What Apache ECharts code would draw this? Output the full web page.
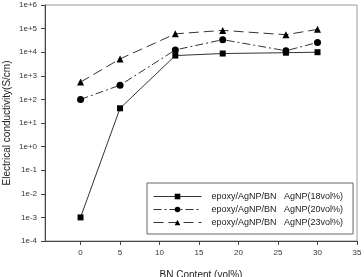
<!DOCTYPE html>
<html>
<head>
<meta charset="utf-8">
<script src="https://cdn.jsdelivr.net/npm/echarts@6/dist/echarts.min.js"></script>
<style>
  html, body { margin: 0; padding: 0; background: #fff; }
  #main { width: 364px; height: 277px; }
</style>
</head>
<body>
<div id="main"></div>
<script>
// BN content (vol%)
var bnContent = [0, 5, 12, 18, 26, 30];
// conductivity (S/cm) per AgNP loading
var ag18 = [1e-3, 42, 7200, 8800, 9500, 10000];
var ag20 = [100, 400, 12500, 34000, 11500, 26000];
var ag23 = [540, 5200, 60000, 84000, 55000, 93000];
var seriesNames = [
    'epoxy/AgNP/BN   AgNP(18vol%)',
    'epoxy/AgNP/BN   AgNP(20vol%)',
    'epoxy/AgNP/BN   AgNP(23vol%)'
];
var xTicks = [0, 5, 10, 15, 20, 25, 30, 35];

function pairs(ys) {
    return bnContent.map(function (x, i) { return [x, ys[i]]; });
}

var lineColor = '#333';
var font = 'Liberation Sans, Arial, sans-serif';

echarts.init(document.getElementById('main')).setOption({
    animation: false,
    grid: {
        left: 45, top: 5, right: 7, bottom: 36,
        outerBoundsMode: 'none',
        show: true, borderColor: '#999', borderWidth: 1
    },
    legend: {
        orient: 'vertical',
        left: 147, top: 183,
        width: 201,
        itemWidth: 48, itemHeight: 7, itemGap: 4,
        padding: [9, 10, 7, 6],
        borderColor: '#666', borderWidth: 1,
        lineStyle: { width: 1 },
        textStyle: { fontSize: 9, fontFamily: font, color: '#222', padding: [0, 0, 0, 5] },
        data: seriesNames
    },
    xAxis: {
        type: 'value',
        min: -4.5, max: 35,
        name: 'BN Content (vol%)',
        nameLocation: 'middle',
        nameGap: 29,
        nameMoveOverlap: false,
        nameTextStyle: { fontSize: 10, fontFamily: font, color: '#222' },
        splitLine: { show: false },
        axisLine: { onZero: false, lineStyle: { color: '#444' } },
        axisTick: { show: true, length: 4, inside: false, customValues: xTicks, lineStyle: { color: '#444' } },
        axisLabel: { fontSize: 8, fontFamily: font, color: '#333', margin: 8, customValues: xTicks }
    },
    yAxis: {
        type: 'log',
        logBase: 10,
        min: 1e-4, max: 1e6,
        splitNumber: 10,
        name: 'Electrical conductivity(S/cm)',
        nameLocation: 'middle',
        nameGap: 33,
        nameMoveOverlap: false,
        nameTextStyle: { fontSize: 10, fontFamily: font, color: '#222' },
        splitLine: { show: false },
        axisLine: { show: true, onZero: false, lineStyle: { color: '#444' } },
        axisTick: { show: true, length: 4, lineStyle: { color: '#444' } },
        axisLabel: {
            fontSize: 8, fontFamily: font, color: '#333', margin: 8,
            formatter: function (v) {
                var e = Math.round(Math.log10(v));
                return '1e' + (e >= 0 ? '+' : '') + e;
            }
        }
    },
    series: [
        {
            name: seriesNames[0], type: 'line', data: pairs(ag18),
            symbol: 'rect', symbolSize: 6,
            lineStyle: { color: lineColor, width: 1, type: 'solid' },
            itemStyle: { color: '#000' }
        },
        {
            name: seriesNames[1], type: 'line', data: pairs(ag20),
            symbol: 'circle', symbolSize: 7,
            lineStyle: { color: lineColor, width: 1, type: [8, 3, 2, 3] },
            itemStyle: { color: '#000' }
        },
        {
            name: seriesNames[2], type: 'line', data: pairs(ag23),
            symbol: 'triangle', symbolSize: 7,
            lineStyle: { color: lineColor, width: 1, type: [10, 5] },
            itemStyle: { color: '#000' }
        }
    ]
});
</script>
</body>
</html>
